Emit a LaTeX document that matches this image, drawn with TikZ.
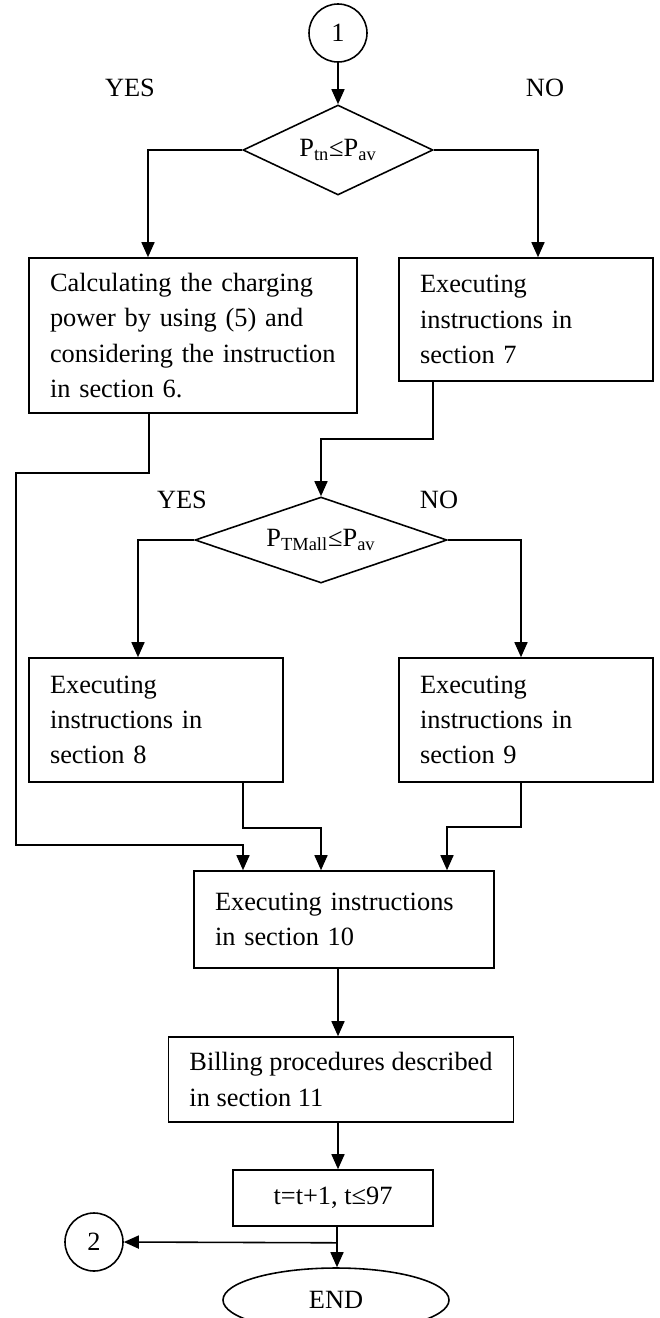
\documentclass[tikz,border=0pt]{standalone}
\usepackage{fontspec}
\setmainfont{Liberation Serif}
\usepackage{tikz}
\usetikzlibrary{arrows.meta,positioning,calc,shapes.geometric}

\begin{document}
\begin{tikzpicture}[>={Triangle[length=0.3cm,width=0.26cm]},
  every node/.style={font=\fontsize{15}{20}\selectfont},
  proc/.style={draw,line width=0.9pt,rectangle,align=left,inner xsep=0.42cm,inner ysep=0pt},
  decide/.style={draw,line width=0.9pt,diamond,inner sep=0pt},
  conn/.style={draw,line width=0.9pt,circle,minimum size=1.16cm,inner sep=0pt},
  flow/.style={->,line width=0.9pt}]
  \useasboundingbox (0,0) rectangle (13.18,-26.36);
  % top part
  \node[conn] (c1) at (6.76,-0.66) {1};
  \node[decide,aspect=2.1,minimum width=3.8cm,minimum height=1.8cm] (d1) at (6.76,-3.0) {P\textsubscript{tn}≤P\textsubscript{av}};
  \node (yes1) at (2.6,-1.76) {YES};
  \node (no1) at (10.9,-1.76) {NO};
  \node[proc,text width=5.72cm,minimum height=3.1cm] (bx6) at (3.86,-6.71) {Calculating the charging\\power by using (5) and\\considering the instruction\\in section 6.};
  \node[proc,text width=4.24cm,minimum height=2.46cm] (bx7) at (10.52,-6.39) {Executing\\instructions in\\section 7};
  \draw[flow] (c1) -- (d1);
  \draw[flow] (d1.west) -| ([xshift=-0.9cm]bx6.north);
  \draw[flow] (d1.east) -| ([xshift=0.24cm]bx7.north);
  % second decision
  \node[decide,aspect=2.93,minimum width=5.04cm,minimum height=1.72cm] (d2) at (6.42,-10.8) {P\textsubscript{TMall}≤P\textsubscript{av}};
  \node (yes2) at (3.64,-10.0) {YES};
  \node (no2) at (8.78,-10.0) {NO};
  \node[proc,text width=4.24cm,minimum height=2.48cm] (bx8) at (3.12,-14.4) {Executing\\instructions in\\section 8};
  \node[proc,text width=4.24cm,minimum height=2.48cm] (bx9) at (10.52,-14.4) {Executing\\instructions in\\section 9};
  \draw[flow] ([xshift=-1.86cm]bx7.south) -- ++(0,-1.14) -| (d2.north);
  \draw[flow] (d2.west) -| ([xshift=-0.36cm]bx8.north);
  \draw[flow] (d2.east) -| ([xshift=-0.1cm]bx9.north);
  % merge
  \node[proc,text width=5.16cm,minimum height=1.94cm] (bx10) at (6.88,-18.39) {Executing instructions\\in section 10};
  \draw[flow] ([xshift=-0.88cm]bx6.south) -- ++(0,-1.18) -- ++(-2.66,0) -- ++(0,-7.44) -| ([xshift=-2.02cm]bx10.north);
  \draw[flow] ([xshift=1.74cm]bx8.south) -- ++(0,-0.9) -| ([xshift=-0.46cm]bx10.north);
  \draw[flow] ([xshift=-0.1cm]bx9.south) -- ++(0,-0.88) -| ([xshift=2.06cm]bx10.north);
  % bottom
  \node[proc,minimum width=6.76cm,minimum height=1.7cm] (bx11) at (6.82,-21.59) {Billing procedures described\\in section 11};
  \node[draw,line width=0.9pt,minimum width=4.0cm,minimum height=1.12cm,inner sep=0pt] (bx12) at (6.66,-23.96) {t=t+1, t≤97};
  \node[draw,line width=0.9pt,ellipse,minimum width=4.52cm,minimum height=1.28cm,inner sep=0pt] (fin) at (6.72,-26.0) {END};
  \node[conn] (c2) at (1.88,-24.84) {2};
  \draw[flow] ([xshift=-0.12cm]bx10.south) -- ([xshift=-0.06cm]bx11.north);
  \draw[flow] ([xshift=-0.06cm]bx11.south) -- ([xshift=0.1cm]bx12.north);
  \coordinate (sp) at ($(bx12.south)+(0.08,-0.32)$);
  \draw[flow] ([xshift=0.08cm]bx12.south) -- (sp) -- (sp |- fin.north);
  \draw[flow] (sp) -- (c2.east);
\end{tikzpicture}
\end{document}
